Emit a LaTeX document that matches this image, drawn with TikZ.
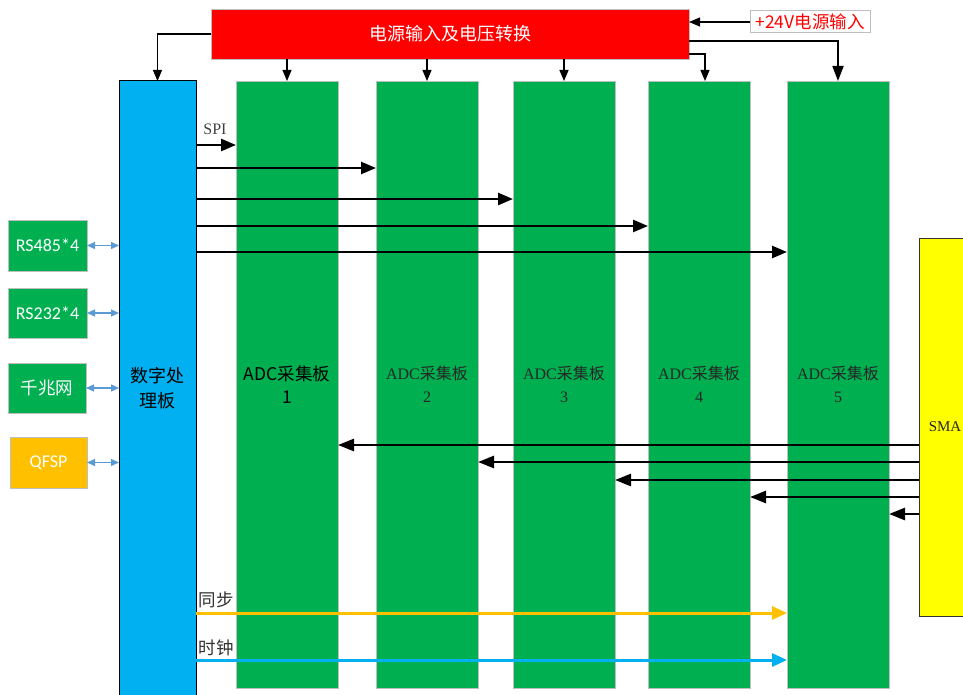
\documentclass[tikz,border=0pt]{standalone}
\usepackage{fontspec}
\setmainfont{Liberation Serif}
\newfontfamily\cjk{Noto Sans CJK SC}
\newfontfamily\cali{Carlito}
\usetikzlibrary{arrows.meta,calc}
\definecolor{pgreen}{HTML}{00B050}
\definecolor{pred}{HTML}{FF0000}
\definecolor{pblue}{HTML}{00B0F0}
\definecolor{pyellow}{HTML}{FFFF00}
\definecolor{porange}{HTML}{FFC000}
\definecolor{plblue}{HTML}{5B9BD5}
\definecolor{pborder}{HTML}{BFBFBF}
\begin{document}
\begin{tikzpicture}[x=1pt,y=-1pt,
  box/.style={anchor=north west,inner sep=0pt,outer sep=0pt,align=center},
  board/.style={box,fill=pgreen,draw=pborder,line width=0.8pt,minimum width=102pt,minimum height=607pt},
  leftbox/.style={box,fill=pgreen,draw=pborder,line width=0.8pt,text=white,font=\cali\fontsize{18}{21}\selectfont},
  thinarr/.style={draw=black,line width=1.2pt,-{Triangle[length=11pt,width=9pt]}},
  bigarr/.style={draw=black,line width=1.8pt,-{Triangle[length=15pt,width=11pt]}},
  spiarr/.style={draw=black,line width=2.6pt,-{Triangle[length=15pt,width=12pt]}},
  smaarr/.style={draw=black,line width=2.6pt,-{Triangle[length=16pt,width=12pt]}},
  syncarr/.style={draw=porange,line width=3pt,-{Triangle[length=15pt,width=13pt]}},
  clkarr/.style={draw=pblue,line width=3pt,-{Triangle[length=15pt,width=13pt]}},
  dblarr/.style={draw=plblue,line width=1.4pt,{Triangle[length=8pt,width=7pt]}-{Triangle[length=8pt,width=7pt]}},
  lbl/.style={inner sep=0pt,text=black!80,font=\cjk\fontsize{17.5}{20}\selectfont}
]
\useasboundingbox (0,0) rectangle (963,695);
\fill[white] (0,0) rectangle (963,695);
\begin{scope}
\clip (0,0) rectangle (963,695);

% power box
\node[box,fill=pred,draw=pborder,line width=0.8pt,minimum width=478pt,minimum height=50pt,
  text=white,font=\cjk\fontsize{18}{21}\selectfont] (pwr) at (211,9) {电源输入及电压转换};
\node[box,draw=pborder,line width=1pt,fill=white,minimum width=120pt,minimum height=22pt,
  text=pred,font=\cjk\fontsize{17.5}{20}\selectfont] (in24) at (750,11) {+24V电源输入};

% digital board
\node[box,fill=pblue,draw=black,line width=1pt,minimum width=77pt,minimum height=615pt,
  font=\cjk\fontsize{18}{25}\selectfont] (dsp) at (119,81) {数字处\\理板};

% ADC boards
\node[board,font=\cjk\fontsize{17.5}{23}\selectfont] (b1) at (236,81) {ADC采集板\\1};
\node[board,text=black!85,font=\fontsize{16}{23}\selectfont] (b2) at (376,81) {ADC{\cjk 采集板}\\2};
\node[board,text=black!85,font=\fontsize{16}{23}\selectfont] (b3) at (513,81) {ADC{\cjk 采集板}\\3};
\node[board,text=black!85,font=\fontsize{16}{23}\selectfont] (b4) at (648,81) {ADC{\cjk 采集板}\\4};
\node[board,text=black!85,font=\fontsize{16}{23}\selectfont] (b5) at (787,81) {ADC{\cjk 采集板}\\5};

% SMA
\node[box,fill=pyellow,draw=black!80,line width=1pt,minimum width=52pt,minimum height=378pt,
  text=black!85,font=\fontsize{15}{18}\selectfont] (sma) at (919,238) {SMA};

% left interface boxes
\node[leftbox,minimum width=79pt,minimum height=51pt] (rs485) at (8,220) {RS485*4};
\node[leftbox,minimum width=79pt,minimum height=50pt] (rs232) at (8,288) {RS232*4};
\node[leftbox,minimum width=78pt,minimum height=50pt,font=\cjk\fontsize{17.5}{20}\selectfont] (gbe) at (8,363) {千兆网};
\node[leftbox,fill=porange,minimum width=77pt,minimum height=51pt] (qfsp) at (10,437) {QFSP};

% power connectors
\draw[thinarr] (in24.west) -- (in24.west -| pwr.east);
\draw[thinarr] (pwr.west) -| (dsp.north);
\draw[thinarr] (pwr.south -| b1.north) -- (b1.north);
\draw[thinarr] (pwr.south -| b2.north) -- (b2.north);
\draw[thinarr] (pwr.south -| b3.north) -- (b3.north);
\coordinate (p4) at ($(pwr.east)+(0,20)$);
\coordinate (t4) at ($(b4.north)+(6,0)$);
\draw[thinarr] (p4) -| (t4);
\coordinate (p5) at ($(pwr.east)+(0,7)$);
\draw[bigarr] (p5) -| (b5.north);

% SPI
\draw[spiarr] (dsp.east |- 0,145) -- (b1.west |- 0,145);
\draw[spiarr] (dsp.east |- 0,168) -- (b2.west |- 0,168);
\draw[spiarr] (dsp.east |- 0,199) -- (b3.west |- 0,199);
\draw[spiarr] (dsp.east |- 0,226) -- (b4.west |- 0,226);
\draw[spiarr] (dsp.east |- 0,252) -- (b5.west |- 0,252);
\node[inner sep=0pt,text=black!75,font=\fontsize{16}{19}\selectfont] (spi) at (215,129) {SPI};

% SMA to boards
\draw[smaarr] (sma.west |- 0,445) -- (b1.east |- 0,445);
\draw[smaarr] (sma.west |- 0,462) -- (b2.east |- 0,462);
\draw[smaarr] (sma.west |- 0,480) -- (b3.east |- 0,480);
\draw[smaarr] (sma.west |- 0,497) -- (b4.east |- 0,497);
\draw[smaarr] (sma.west |- 0,514) -- (b5.east |- 0,514);

% sync and clock
\draw[syncarr] (dsp.east |- 0,613) -- (b5.west |- 0,613);
\draw[clkarr] (dsp.east |- 0,660) -- (b5.west |- 0,660);
\node[lbl] (sync) at (216,600) {同步};
\node[lbl] (clk) at (216,648) {时钟};

% left double arrows
\draw[dblarr] (rs485.east) -- (rs485.east -| dsp.west);
\draw[dblarr] (rs232.east) -- (rs232.east -| dsp.west);
\draw[dblarr] (gbe.east) -- (gbe.east -| dsp.west);
\draw[dblarr] (qfsp.east) -- (qfsp.east -| dsp.west);
\end{scope}
\end{tikzpicture}
\end{document}
